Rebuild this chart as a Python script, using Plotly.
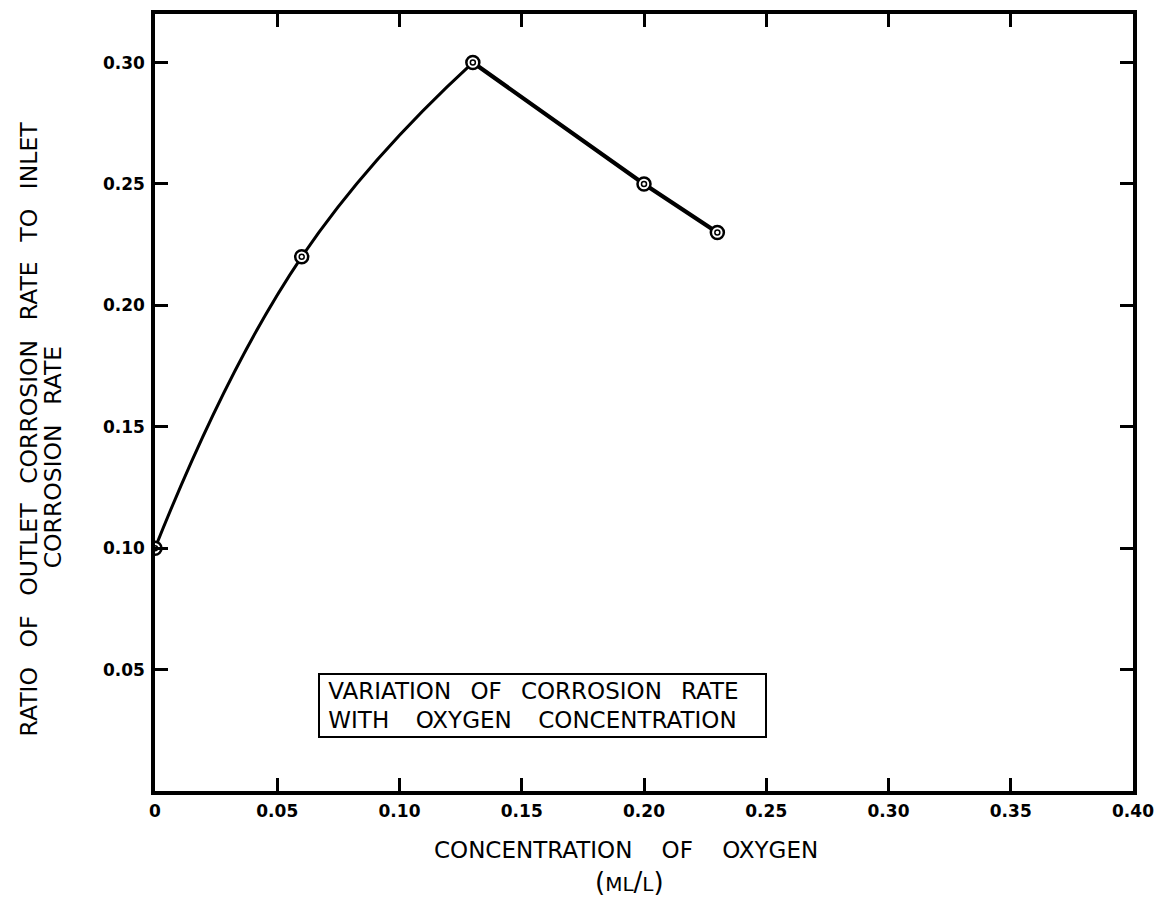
import plotly.graph_objects as go

# Data
oxygen = [0.0, 0.06, 0.13, 0.20, 0.23]          # ML/L
ratio = [0.10, 0.22, 0.30, 0.25, 0.23]          # outlet / inlet corrosion rate

x_ticks = [0, 0.05, 0.10, 0.15, 0.20, 0.25, 0.30, 0.35, 0.40]
x_tick_text = ["0", "0.05", "0.10", "0.15", "0.20", "0.25", "0.30", "0.35", "0.40"]
y_ticks = [0.05, 0.10, 0.15, 0.20, 0.25, 0.30]
y_tick_text = ["0.05", "0.10", "0.15", "0.20", "0.25", "0.30"]

NB = "\u00a0"
THIN = "\u2009"
def sp(s, gap):
    return s.replace(" ", gap)

fig = go.Figure()

# smooth rising part
fig.add_trace(go.Scatter(x=oxygen[:3], y=ratio[:3], mode="lines",
                         line=dict(color="black", width=3, shape="spline", smoothing=1.3),
                         hoverinfo="skip", showlegend=False))
# straight falling part
fig.add_trace(go.Scatter(x=oxygen[2:], y=ratio[2:], mode="lines",
                         line=dict(color="black", width=4.2),
                         hoverinfo="skip", showlegend=False))
# data point markers (double circle)
fig.add_trace(go.Scatter(x=oxygen, y=ratio, mode="markers",
                         marker=dict(symbol="circle", size=13, color="white",
                                     line=dict(color="black", width=2.5)),
                         showlegend=False))
fig.add_trace(go.Scatter(x=oxygen, y=ratio, mode="markers",
                         marker=dict(symbol="circle", size=5, color="white",
                                     line=dict(color="black", width=1.5)),
                         showlegend=False))

axis_common = dict(showgrid=False, zeroline=False, showline=True, linecolor="black",
                   linewidth=3.5, mirror="ticks", ticks="inside", ticklen=13,
                   tickwidth=2.5, tickcolor="black",
                   tickfont=dict(family="DejaVu Sans", size=17, color="black", weight="bold"))

fig.update_xaxes(range=[0, 0.40], tickvals=x_ticks, ticktext=x_tick_text,
                 ticklabelstandoff=2, **axis_common)
fig.update_yaxes(range=[0, 0.32], tickvals=y_ticks, ticktext=y_tick_text,
                 ticklabelstandoff=3, **axis_common)

title_font = dict(family="DejaVu Sans", size=23.5, color="black")
ygap = NB * 2 + THIN

fig.add_annotation(text=sp("RATIO OF OUTLET CORROSION RATE TO INLET", ygap),
                   xref="paper", yref="paper", x=-0.1293, y=0.466, textangle=-90,
                   xanchor="center", yanchor="middle", showarrow=False,
                   font=title_font)
fig.add_annotation(text=sp("CORROSION RATE", ygap),
                   xref="paper", yref="paper", x=-0.1049, y=0.430, textangle=-90,
                   xanchor="center", yanchor="middle", showarrow=False,
                   font=title_font)
fig.add_annotation(text=sp("CONCENTRATION OF OXYGEN", NB * 4),
                   xref="paper", yref="paper", x=0.482, y=-0.0755,
                   xanchor="center", yanchor="middle", showarrow=False,
                   font=dict(family="DejaVu Sans", size=23, color="black"))
small = "<span style='font-size:20px'>"
fig.add_annotation(text="(" + small + "ML</span>/" + small + "L</span>)",
                   xref="paper", yref="paper", x=0.4847, y=-0.1165,
                   xanchor="center", yanchor="middle", showarrow=False,
                   font=dict(family="DejaVu Sans", size=26, color="black"))
fig.add_annotation(text=NB + sp("VARIATION OF CORROSION RATE", NB * 2 + THIN) + "<br>"
                   + NB + sp("WITH OXYGEN CONCENTRATION", NB * 3 + THIN),
                   xref="paper", yref="paper", x=0.3966, y=0.1095,
                   xanchor="center", yanchor="middle", showarrow=False,
                   align="left", width=443, height=59,
                   bordercolor="black", borderwidth=2, borderpad=1, bgcolor="white",
                   font=dict(family="DejaVu Sans", size=23, color="black"))

fig.update_layout(width=1164, height=902,
                  margin=dict(l=155, r=27, t=10, b=111),
                  paper_bgcolor="white", plot_bgcolor="white")

fig.write_html("out.html")
